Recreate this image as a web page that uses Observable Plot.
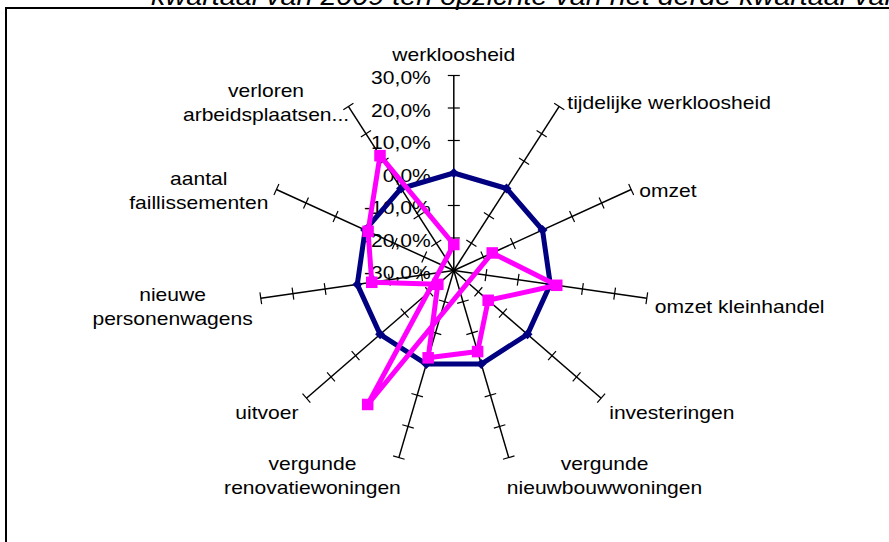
<!DOCTYPE html>
<html><head><meta charset="utf-8">
<script src="https://cdn.jsdelivr.net/npm/d3@7"></script>
<script src="https://cdn.jsdelivr.net/npm/@observablehq/plot@0.6"></script>
<style>
html,body{margin:0;padding:0;background:#fff;}
#wrap{position:relative;width:889px;height:542px;overflow:hidden;background:#fff;}
#chart{position:absolute;left:0;top:0;}
#frame{position:absolute;left:5px;top:7px;width:1000px;height:1000px;border-left:2px solid #000;border-top:2px solid #000;box-sizing:border-box;}
#title{position:absolute;left:151px;top:-16px;font:italic 25px "Liberation Sans",Arial,sans-serif;line-height:25px;white-space:nowrap;color:#000;transform:scaleX(1.15);transform-origin:0 0;}
</style></head>
<body>
<div id="wrap">
  <div id="chart"></div>
  <div id="frame"></div>
  <div id="title">kwartaal van 2009 ten opzichte van het derde kwartaal van 2008</div>
</div>
<script>
// ---- data ----
const categories = ["werkloosheid", "tijdelijke werkloosheid", "omzet", "omzet kleinhandel", "investeringen",
  "vergunde\nnieuwbouwwoningen", "vergunde\nrenovatiewoningen", "uitvoer", "nieuwe\npersonenwagens",
  "aantal\nfaillissementen", "verloren\narbeidsplaatsen..."];
const tickValues = [30, 20, 10, 0, -10, -20, -30];
const tickLabels = ["30,0%", "20,0%", "10,0%", "0,0%", "-10,0%", "-20,0%", "-30,0%"];
const seriesNames = ["Reeks1", "Reeks2"];
const reeks1 = [0, 0, 0, 0, 0, 0, 0, 0, 0, 0, 0];
const reeks2 = [-22, -79, -17, 2, -16, -4, -2, -23.5, -4.5, -1, 12];

// ---- layout helpers ----
const N = categories.length;
const FS = 18, SX = 1.17, LH = 24;
const R = Plot.scale({x: {type: "linear", domain: [-30, 30], range: [0, 195]}}); // radial scale
const rad = v => R.apply(v);
const ang = i => i * 2 * Math.PI / N;
const pt = (i, v) => [rad(v) * Math.sin(ang(i)), rad(v) * Math.cos(ang(i))];

const axisRows = categories.map((c, i) => {
  const [x1, y1] = pt(i, -30), [x2, y2] = pt(i, 30);
  return {i, x1, y1, x2, y2};
});
const tickRows = axisRows.flatMap(a => tickValues.filter(v => v > -30).map(v => {
  const [px, py] = pt(a.i, v), th = ang(a.i), c = Math.cos(th), s = Math.sin(th), L = 6;
  return {x1: px - L * c, y1: py + L * s, x2: px + L * c, y2: py - L * s};
}));

const ctx = document.createElement("canvas").getContext("2d");
ctx.font = `${FS}px "Liberation Sans"`;
const labelRows = categories.map((label, i) => {
  const th = ang(i), s = Math.sin(th), c = Math.cos(th);
  const [ex, ey] = pt(i, 30);
  const lines = label.split("\n");
  // a truncated label's trailing dots overflow the label box
  const w = d3.max(lines, l => ctx.measureText(l.replace(/\.+$/, "")).width) * SX;
  const h = lines.length * LH;
  let x, y;
  if (Math.abs(s) < 0.2) { x = ex; y = ey + Math.sign(c) * (h / 2 + 10); }
  else { const gap = Math.abs(c) > 0.9 ? -2 : 8; x = ex + Math.sign(s) * (w / 2 + gap); y = ey - 5 + 12 * c; }
  return {label, x, y};
});

const points = [reeks1, reeks2].flatMap((vals, k) => vals.map((v, i) => {
  const [x, y] = pt(i, v);
  return {serie: seriesNames[k], i, v, x, y};
}));

const chart = Plot.plot({
  width: 889, height: 542,
  marginTop: 0, marginRight: 0, marginBottom: 0, marginLeft: 0,
  x: {domain: [-453.3, 435.7], range: [0, 889], axis: null},
  y: {domain: [-272, 270], range: [542, 0], axis: null},
  color: {domain: seriesNames, range: ["#000080", "#ff00ff"]},
  style: {fontFamily: '"Liberation Sans", Arial, sans-serif', background: "transparent", color: "#000"},
  marks: [
    Plot.link(axisRows, {x1: "x1", y1: "y1", x2: "x2", y2: "y2", stroke: "#000", strokeWidth: 1.5}),
    Plot.link(tickRows, {x1: "x1", y1: "y1", x2: "x2", y2: "y2", stroke: "#000", strokeWidth: 1.2}),
    Plot.text(tickValues, {x: v => pt(0, v)[0], y: v => pt(0, v)[1], text: (v, k) => tickLabels[k],
      textAnchor: "end", dx: -23, dy: 3, fontSize: FS, fill: "#000"}),
    Plot.text(labelRows, {x: "x", y: "y", text: "label", textAnchor: "middle", lineAnchor: "middle",
      lineHeight: LH / FS, fontSize: FS, fill: "#000"}),
    Plot.line(points, {filter: d => d.serie === "Reeks1", x: "x", y: "y", z: "serie", stroke: "serie",
      curve: "linear-closed", strokeWidth: 5, strokeLinejoin: "round"}),
    Plot.dot(points, {filter: d => d.serie === "Reeks1", x: "x", y: "y", fill: "serie", symbol: "diamond2", r: 4.5}),
    Plot.line(points, {filter: d => d.serie === "Reeks2", x: "x", y: "y", z: "serie", stroke: "serie",
      curve: "linear-closed", strokeWidth: 5, strokeLinejoin: "round"}),
    Plot.dot(points, {filter: d => d.serie === "Reeks2", x: "x", y: "y", fill: "serie", symbol: "square", r: 6.5})
  ]
});
// horizontally widened glyphs, as in the reference rendering
d3.select(chart).selectAll("g[aria-label='text'] text").attr("transform", function() {
  return (this.getAttribute("transform") || "") + ` scale(${SX},1)`;
});
document.getElementById("chart").appendChild(chart);
</script>
</body></html>
